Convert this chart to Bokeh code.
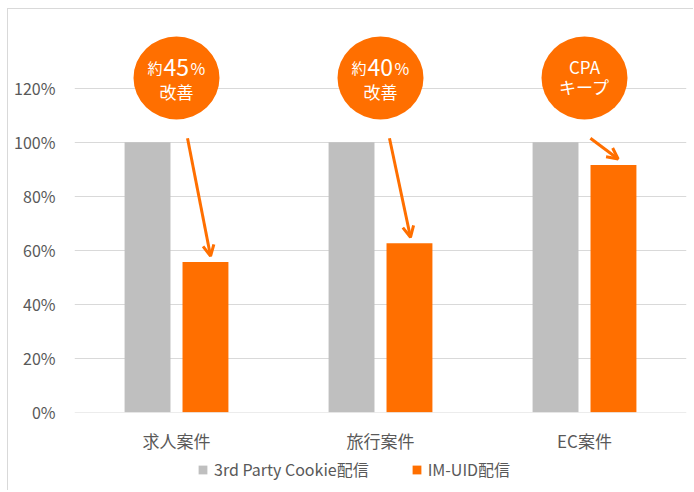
from bokeh.plotting import figure
from bokeh.layouts import column
from bokeh.models import (Range1d, FixedTicker, Arrow, OpenHead, Legend, LegendItem)
from bokeh.core.properties import value
from bokeh.embed import file_html
from bokeh.resources import INLINE

# ---- data ----
categories = ["求人案件", "旅行案件", "EC案件"]
series_names = ["3rd Party Cookie配信", "IM-UID配信"]
cookie_values = [100, 100, 100]
imuid_values = [55.6, 62.6, 91.6]
y_ticks = [0, 20, 40, 60, 80, 100, 120]
y_tick_labels = ["0%", "20%", "40%", "60%", "80%", "100%", "120%"]
badge_prefix = ["約", "約", ""]
badge_number = ["45", "40", ""]
badge_suffix = ["%", "%", ""]
badge_top = ["", "", "CPA"]
badge_bottom = ["改善", "改善", "キープ"]

# ---- style ----
GRAY = "#bfbfbf"
ORANGE = "#ff6f00"
TEXT = "#595959"
GRID = "#d9d9d9"
FONT = "Noto Sans CJK JP"

n = len(categories)
cx = [i + 0.5 for i in range(n)]
offset = 0.142
bar_w = 0.225

p = figure(width=686, height=446, output_backend="svg", toolbar_location=None,
           x_range=Range1d(0, n), y_range=Range1d(-0.1, 145.46),
           min_border_left=66, min_border_right=8, min_border_top=10, min_border_bottom=43)
p.styles = {"border-left": "1px solid #d9d9d9", "border-top": "1px solid #d9d9d9"}
p.outline_line_color = None
p.background_fill_color = "white"
p.border_fill_color = "white"

p.xgrid.visible = False
p.ygrid.grid_line_color = GRID
p.ygrid.grid_line_width = 1
p.yaxis.ticker = FixedTicker(ticks=y_ticks)
p.yaxis.major_label_overrides = {t: l for t, l in zip(y_ticks, y_tick_labels)}
p.xaxis.ticker = FixedTicker(ticks=cx)
p.xaxis.major_label_overrides = {c: l for c, l in zip(cx, categories)}
for ax in (p.xaxis, p.yaxis):
    ax.axis_line_color = None
    ax.major_tick_line_color = None
    ax.minor_tick_line_color = None
    ax.major_label_text_color = TEXT
    ax.major_label_text_font = FONT
p.yaxis.major_label_text_font_size = "16px"
p.yaxis.major_label_standoff = 13
p.xaxis.major_label_text_font_size = "17px"
p.xaxis.major_label_standoff = 9

r_gray = p.vbar(x=[c - offset for c in cx], top=cookie_values, bottom=0, width=bar_w,
                fill_color=GRAY, line_color=None)
r_orange = p.vbar(x=[c + offset for c in cx], top=imuid_values, bottom=0, width=bar_w,
                  fill_color=ORANGE, line_color=None)

# arrows from the gray level down to the orange bars
arrow_start_dx = [0.054, 0.044, 0.029]
arrow_end_dx = [0.167, 0.147, 0.165]
for i in range(n):
    p.add_layout(Arrow(x_start=cx[i] + arrow_start_dx[i], y_start=101.5,
                       x_end=cx[i] + arrow_end_dx[i], y_end=imuid_values[i] + 2.2,
                       line_color=ORANGE, line_width=3,
                       end=OpenHead(size=11, line_color=ORANGE, line_width=3)))

# badges
badge_y = [123.8] * n
p.ellipse(x=cx, y=badge_y, width=86, height=83, width_units="screen", height_units="screen",
          fill_color=ORANGE, line_color=None)

idx = [i for i in range(n) if badge_number[i]]
bx = [cx[i] for i in idx]
by = [badge_y[i] for i in idx]
p.text(x=bx, y=by, text=[badge_prefix[i] for i in idx],
       x_offset=-29, y_offset=-10, text_align="left", text_baseline="alphabetic",
       text_font=value(FONT), text_font_size="15px", text_color="white")
p.text(x=bx, y=by, text=[badge_number[i] for i in idx],
       x_offset=-13, y_offset=-10, text_align="left", text_baseline="alphabetic",
       text_font=value(FONT), text_font_size="23px", text_color="white")
p.text(x=bx, y=by, text=[badge_suffix[i] for i in idx],
       x_offset=14, y_offset=-10, text_align="left", text_baseline="alphabetic",
       text_font=value(FONT), text_font_size="16px", text_color="white")
idx2 = [i for i in range(n) if badge_top[i]]
p.text(x=[cx[i] for i in idx2], y=[badge_y[i] for i in idx2], text=[badge_top[i] for i in idx2],
       x_offset=0, y_offset=-11, text_align="center", text_baseline="middle",
       text_font=value(FONT), text_font_size="17px", text_color="white")
bottom_off = [14 if badge_number[i] else 9 for i in range(n)]
p.text(x=cx, y=badge_y, text=badge_bottom, x_offset=0, y_offset=bottom_off,
       text_align="center", text_baseline="middle",
       text_font=value(FONT), text_font_size="17px", text_color="white")

# legend strip below the chart (its renderers are hidden; only the legend shows)
lg = figure(width=686, height=36, output_backend="svg", toolbar_location=None,
            x_axis_type=None, y_axis_type=None, x_range=Range1d(0, n), y_range=Range1d(0, 100),
            min_border=0)
lg.styles = {"border-left": "1px solid #d9d9d9"}
lg.outline_line_color = None
lg.grid.visible = False
lr_gray = lg.vbar(x=cx, top=cookie_values, bottom=0, width=bar_w, fill_color=GRAY, line_color=None,
                  visible=False)
lr_orange = lg.vbar(x=cx, top=imuid_values, bottom=0, width=bar_w, fill_color=ORANGE, line_color=None,
                    visible=False)
legend = Legend(items=[LegendItem(label=series_names[0], renderers=[lr_gray]),
                       LegendItem(label=series_names[1], renderers=[lr_orange])],
                orientation="horizontal", location=(123, 9),
                glyph_width=11, glyph_height=11, label_height=20,
                label_text_font=FONT, label_text_font_size="16px", label_text_color=TEXT,
                label_standoff=6, spacing=42, padding=0, margin=0,
                border_line_color=None, background_fill_alpha=0)
lg.add_layout(legend)

layout = column(p, lg, spacing=0)
layout.styles = {"margin-left": "7px", "margin-top": "8px"}

open("out.html", "w").write(file_html(layout, INLINE))
